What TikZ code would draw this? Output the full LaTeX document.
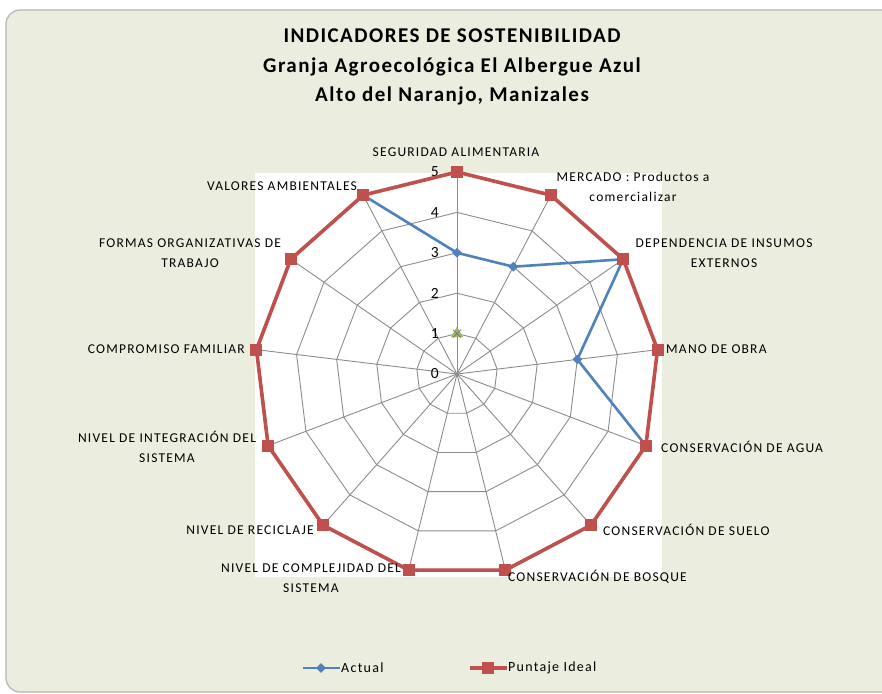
\documentclass[tikz,border=0pt]{standalone}
\usepackage{fontspec}
\setmainfont{Carlito}
\newfontfamily\labelfont[LetterSpace=9]{Carlito}
\newfontfamily\titlefont[LetterSpace=7]{Carlito}
\usetikzlibrary{shapes.geometric}

\definecolor{chartbg}{HTML}{EBEEDE}
\definecolor{framegray}{HTML}{B4B4B4}
\definecolor{gridgray}{HTML}{8C8C8C}
\definecolor{actualblue}{HTML}{4F81BD}
\definecolor{idealred}{HTML}{C0504D}
\definecolor{markgreen}{HTML}{9BBB59}
\definecolor{markpurple}{HTML}{8064A2}

\begin{document}
\begin{tikzpicture}[x=1pt, y=-1pt,
	grid line/.style={gridgray, line width=0.9pt},
	axis label/.style={font=\labelfont\fontsize{13.5}{19.5}\selectfont, align=center, inner sep=0pt},
	value label/.style={font=\fontsize{15.5}{15.5}\selectfont, anchor=east, inner sep=0pt},
	ideal mark/.style={fill=idealred, minimum size=12pt, inner sep=0pt},
	actual mark/.style={diamond, fill=actualblue, minimum size=10pt, inner sep=0pt},
	legend text/.style={font=\labelfont\fontsize{14}{14}\selectfont, anchor=west, inner sep=0pt}]

	\useasboundingbox (0,0) rectangle (882,693);
	\fill[white] (0,0) rectangle (882,693);
	\draw[framegray, fill=chartbg, line width=1.2pt, rounded corners=14pt] (6,10) rectangle (900,692);
	\fill[white] (255,173) rectangle (662,577);

	% title
	\node[font=\titlefont\bfseries\fontsize{21}{29.5}\selectfont, align=center] (title) at (452,67)
		{INDICADORES DE SOSTENIBILIDAD\\Granja Agroecológica El Albergue Azul\\Alto del Naranjo, Manizales};

	% radar: centre, rings and spokes
	\begin{scope}[shift={(457,374)}]
		\coordinate (c) at (0,0);
		\foreach \r in {1,...,5}
			\draw[grid line] (-90:{\r*40.4}) \foreach \i in {1,...,12} { -- ({-90+\i*360/13}:{\r*40.4}) } -- cycle;
		\foreach \i in {0,...,12}
			\draw[grid line] (c) -- ({-90+\i*360/13}:202);

		\foreach \v/\i in {3/0,3/1,5/2,3/3,5/4,5/5,5/6,5/7,5/8,5/9,5/10,5/11,5/12}
			\coordinate (act\i) at ({-90+\i*360/13}:{\v*40.4});
		\foreach \i in {0,...,12}
			\coordinate (ideal\i) at ({-90+\i*360/13}:202);

		% other series at value 1
		\node[regular polygon, regular polygon sides=3, fill=markgreen, minimum size=14pt, inner sep=0pt] (tri) at (-90:40.4) {};
		\draw[markpurple, line width=0.8pt] (tri.center) ++(-4,-4) -- ++(8,8) ++(-8,0) -- ++(8,-8);
	\end{scope}

	% values on the vertical axis
	\foreach \v in {0,...,5}
		\node[value label] (v\v) at (439,{374-\v*40.4}) {\v};

	% series
	\draw[actualblue, line width=2.6pt, line join=round]
		(act0) \foreach \i in {1,...,12} { -- (act\i) } -- cycle;
	\foreach \i in {0,...,12}
		\node[actual mark] at (act\i) {};
	\draw[idealred, line width=3.6pt, line join=round]
		(ideal0) \foreach \i in {1,...,12} { -- (ideal\i) } -- cycle;
	\foreach \i in {0,...,12}
		\node[ideal mark] at (ideal\i) {};

	% axis labels
	\node[axis label] (seg) at (456,152) {SEGURIDAD ALIMENTARIA};
	\node[axis label] (merc) at (633,187) {MERCADO : Productos a\\comercializar};
	\node[axis label] (dep) at (724,253) {DEPENDENCIA DE INSUMOS\\EXTERNOS};
	\node[axis label, anchor=west] (mano) at (666,349) {MANO DE OBRA};
	\node[axis label, anchor=west] (agua) at (661,447) {CONSERVACIÓN DE AGUA};
	\node[axis label, anchor=west] (suelo) at (603,530) {CONSERVACIÓN DE SUELO};
	\node[axis label, anchor=west] (bosque) at (508,577) {CONSERVACIÓN DE BOSQUE};
	\node[axis label] (compl) at (311,578) {NIVEL DE COMPLEJIDAD DEL\\SISTEMA};
	\node[axis label, anchor=east] (recic) at (314,530) {NIVEL DE RECICLAJE};
	\node[axis label] (integ) at (167,447) {NIVEL DE INTEGRACIÓN DEL\\SISTEMA};
	\node[axis label, anchor=east] (comp) at (245,349) {COMPROMISO FAMILIAR};
	\node[axis label] (formas) at (190,253) {FORMAS ORGANIZATIVAS DE\\TRABAJO};
	\node[axis label] (valores) at (282,186) {VALORES AMBIENTALES};

	% legend
	\coordinate (la1) at (303,668);
	\coordinate (la2) at (340,668);
	\draw[actualblue, line width=2.6pt] (la1) -- (la2);
	\node[actual mark] (lam) at (321,668) {};
	\node[legend text] (lat) at (341,668) {Actual};
	\coordinate (li1) at (470,668);
	\coordinate (li2) at (507,668);
	\draw[idealred, line width=3.6pt] (li1) -- (li2);
	\node[ideal mark] (lim) at (488,668) {};
	\node[legend text] (lit) at (508,668) {Puntaje Ideal};
\end{tikzpicture}
\end{document}
